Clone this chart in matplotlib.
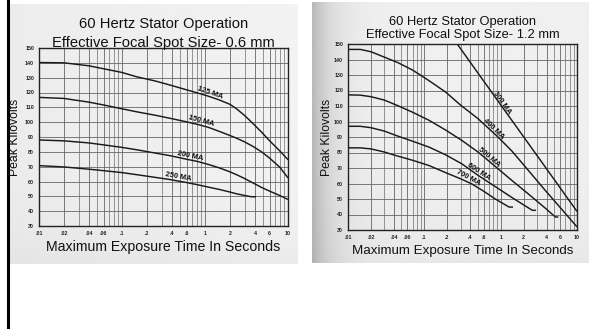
import numpy as np
import matplotlib
matplotlib.use("Agg")
import matplotlib.pyplot as plt
from matplotlib.lines import Line2D
from matplotlib.ticker import FixedLocator, NullFormatter, LogLocator

plt.rcParams['font.family'] = ['Liberation Sans', 'DejaVu Sans']

# ---------------- data ----------------
x_ticks = [0.01, 0.02, 0.04, 0.06, 0.1, 0.2, 0.4, 0.6, 1, 2, 4, 6, 10]
x_tick_labels = [".01", ".02", ".04", ".06", ".1", ".2", ".4", ".6", "1", "2", "4", "6", "10"]
y_ticks = [30, 40, 50, 60, 70, 80, 90, 100, 110, 120, 130, 140, 150]

# Left chart: focal spot 0.6 mm
left_title1 = "60 Hertz Stator Operation"
left_title2 = "Effective Focal Spot Size- 0.6 mm"
left_names = ["125 MA", "150 MA", "200 MA", "250 MA"]
t_full = [0.01, 0.02, 0.04, 0.06, 0.1, 0.15, 0.25, 0.38, 0.6, 0.8, 1.1, 1.5,
          2, 2.4, 3, 3.8, 4.8, 6, 8, 10]
left_t = [
    t_full,
    t_full,
    t_full,
    [0.01, 0.02, 0.04, 0.06, 0.1, 0.15, 0.25, 0.38, 0.6, 0.8, 1.1, 1.5,
     2, 2.4, 3, 3.63, 4.1],
]
left_kv = [
    [140.2, 140, 138, 136, 133.5, 130.6, 127.8, 125, 121.8, 119.8, 117.5, 114.9,
     112, 109, 104.5, 99, 93.3, 87.5, 80.5, 74.7],
    [116.7, 116, 113.5, 111.6, 109, 107, 104.7, 102.6, 100.2, 98.6, 96.5, 93.7,
     91, 89.2, 86.7, 83.6, 80, 75.8, 69.5, 62.4],
    [88, 87.4, 86, 84.7, 83, 81.4, 79.2, 77.4, 75, 73.6, 71.5, 69.1,
     66.5, 64.6, 62, 59, 56, 53.5, 50.5, 47.9],
    [70.7, 69.8, 68.3, 67.3, 66, 64.6, 62.8, 61.3, 59.3, 57.9, 56.2, 54.6,
     52.9, 51.7, 50.6, 49.7, 49.7],
]
left_label_t = [1.15, 0.89, 0.67, 0.48]

# Right chart: focal spot 1.2 mm
right_title1 = "60 Hertz Stator Operation"
right_title2 = "Effective Focal Spot Size- 1.2 mm"
right_names = ["300 MA", "400 MA", "500 MA", "600 MA", "700 MA"]
right_t = [
    [0.27, 0.5, 1, 2, 4, 10],
    [0.01, 0.0145, 0.02, 0.03, 0.045, 0.07, 0.11, 0.19, 0.3, 0.5, 0.9, 1.4,
     2.3, 3.8, 6.2, 10],
    [0.01, 0.0145, 0.02, 0.03, 0.045, 0.07, 0.115, 0.19, 0.31, 0.515, 0.85,
     1.4, 2.3, 3.8, 5.2, 5.7],
    [0.01, 0.0145, 0.02, 0.03, 0.0425, 0.07, 0.115, 0.19, 0.31, 0.515, 0.85,
     1.4, 2, 2.6, 2.9],
    [0.01, 0.0145, 0.02, 0.03, 0.0425, 0.07, 0.115, 0.19, 0.3, 0.42, 0.6,
     0.85, 1.29, 1.45],
]
right_kv = [
    [150, 131.5, 110.8, 90.1, 69.4, 42],
    [146.5, 146.5, 145, 141.5, 138, 133.2, 127, 119, 110.5, 102, 90.5, 81,
     68.5, 55.8, 43.8, 32],
    [117.2, 117, 116, 113.8, 110.2, 106, 100.8, 94.5, 87.8, 80, 71, 62,
     53.3, 44.3, 38.4, 38.4],
    [96.9, 96.9, 96, 93.8, 91, 87.3, 83.5, 78.5, 72.7, 65, 58, 51,
     46.2, 42.7, 42.7],
    [83, 83, 82.3, 80.3, 78, 75, 71.6, 67, 63, 59.7, 55, 50, 44.8, 44.8],
]
right_label_t = [1.04, 0.81, 0.70, 0.52, 0.38]

x_label = "Maximum Exposure Time In Seconds"
y_label = "Peak Kilovolts"

# ---------------- figure ----------------
W, H = 589, 329
fig = plt.figure(figsize=(W / 100, H / 100), dpi=100)
fig.patch.set_facecolor("white")


def fr(x0, y0, x1, y1):
    """pixel box (top-left origin) -> figure fraction rect"""
    return [x0 / W, 1 - y1 / H, (x1 - x0) / W, (y1 - y0) / H]


def fy(py):
    return 1 - py / H


# photo-like backgrounds
gx = np.linspace(0, 1, 200)
gy = np.linspace(0, 1, 100)
GX, GY = np.meshgrid(gx, gy)

bgL = fig.add_axes(fr(9, 4, 298, 264), zorder=0)
imgL = 0.925 + 0.025 * GX - 0.03 * GY ** 6
bgL.imshow(imgL, cmap="gray", vmin=0, vmax=1, aspect="auto", extent=[0, 1, 0, 1])
bgL.axis("off")

bgR = fig.add_axes(fr(312, 2, 589, 263), zorder=0)
imgR = 0.94 - 0.22 * np.exp(-GX / 0.07) - 0.03 * GY ** 4
bgR.imshow(imgR, cmap="gray", vmin=0, vmax=1, aspect="auto", extent=[0, 1, 0, 1])
bgR.axis("off")

# black vertical rule at the far left
fig.add_artist(Line2D([8 / W, 8 / W], [0, 1], color="black", lw=2.2,
                      transform=fig.transFigure))


def draw_chart(rect, t1, t2, names, ts, kvs, label_ts,
               t1_y, t2_y, tsize, xlabel_y, xsize, ylabel_x):
    ax = fig.add_axes(rect, zorder=2)
    ax.set_facecolor("none")
    ax.set_xscale("log")
    ax.set_xlim(0.01, 10)
    ax.set_ylim(30, 150)
    ax.xaxis.set_major_locator(FixedLocator(x_ticks))
    ax.set_xticklabels(x_tick_labels)
    ax.xaxis.set_minor_locator(LogLocator(base=10, subs=np.arange(1, 10)))
    ax.xaxis.set_minor_formatter(NullFormatter())
    ax.yaxis.set_major_locator(FixedLocator(y_ticks))
    ax.tick_params(which="both", length=0, labelsize=3.8, pad=3.5, colors="#222222")
    for lab in ax.get_xticklabels() + ax.get_yticklabels():
        lab.set_fontweight("bold")
    ax.grid(True, which="minor", axis="x", color="#7a7a7a", lw=0.55)
    ax.grid(True, which="major", axis="both", color="#666666", lw=0.6)
    for s in ax.spines.values():
        s.set_color("#222222")
        s.set_linewidth(1.0)

    for t, kv in zip(ts, kvs):
        ax.plot(t, kv, color="#1a1a1a", lw=1.05, solid_capstyle="butt",
                solid_joinstyle="round", clip_on=True)

    # labels along curves
    for name, t, kv, lt in zip(names, ts, kvs, label_ts):
        lx = np.log10(t)
        y0 = np.interp(np.log10(lt), lx, kv)
        p0 = ax.transData.transform((lt, y0))
        lt2 = lt * 1.2
        y1 = np.interp(np.log10(lt2), lx, kv)
        p1 = ax.transData.transform((lt2, y1))
        ang = np.degrees(np.arctan2(p1[1] - p0[1], p1[0] - p0[0]))
        ax.annotate(name, (lt, y0), xytext=(0, 3.0), textcoords="offset points",
                    rotation=ang, rotation_mode="anchor", ha="center", va="center",
                    fontsize=5.4, fontweight="bold", color="#111111")

    cx = rect[0] + rect[2] / 2
    fig.text(cx, t1_y, t1, ha="center", va="center", fontsize=tsize,
             color="#111111")
    fig.text(cx, t2_y, t2, ha="center", va="center", fontsize=tsize,
             color="#111111")
    fig.text(cx, xlabel_y, x_label, ha="center", va="center", fontsize=xsize,
             color="#111111")
    fig.text(ylabel_x, rect[1] + rect[3] / 2, y_label, rotation=90, ha="center",
             va="center", fontsize=8.8, color="#111111")
    return ax


draw_chart(fr(39, 48, 288, 226), left_title1, left_title2, left_names,
           left_t, left_kv, left_label_t,
           fy(24), fy(42.5), 10.6, fy(247.5), 10.2, 15 / W)
draw_chart(fr(348, 44, 577, 230), right_title1, right_title2, right_names,
           right_t, right_kv, right_label_t,
           fy(22), fy(35), 9.3, fy(251), 9.6, 327 / W)

fig.savefig("out.png", dpi=100, facecolor="white")
